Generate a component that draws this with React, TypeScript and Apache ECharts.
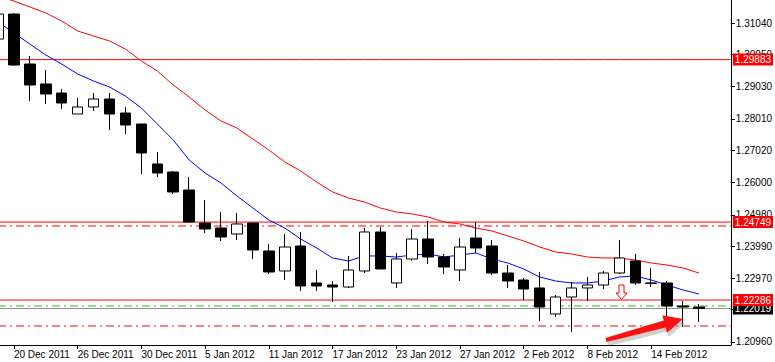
import React, { useEffect, useRef } from "react";
import * as echarts from "echarts";

const dates = [
  "19 Dec 2011", "20 Dec 2011", "21 Dec 2011", "22 Dec 2011", "23 Dec 2011",
  "26 Dec 2011", "27 Dec 2011", "28 Dec 2011", "29 Dec 2011", "30 Dec 2011",
  "2 Jan 2012", "3 Jan 2012", "4 Jan 2012", "5 Jan 2012", "6 Jan 2012",
  "9 Jan 2012", "10 Jan 2012", "11 Jan 2012", "12 Jan 2012", "13 Jan 2012",
  "16 Jan 2012", "17 Jan 2012", "18 Jan 2012", "19 Jan 2012", "20 Jan 2012",
  "23 Jan 2012", "24 Jan 2012", "25 Jan 2012", "26 Jan 2012", "27 Jan 2012",
  "30 Jan 2012", "31 Jan 2012", "1 Feb 2012", "2 Feb 2012", "3 Feb 2012",
  "6 Feb 2012", "7 Feb 2012", "8 Feb 2012", "9 Feb 2012", "10 Feb 2012",
  "13 Feb 2012", "14 Feb 2012", "15 Feb 2012", "16 Feb 2012", "17 Feb 2012",
  "20 Feb 2012", "21 Feb 2012",
];

const opens = [
  1.30534, 1.31324, 1.29744, 1.29113, 1.28828, 1.28165, 1.28386, 1.28639, 1.28196, 1.27849,
  1.26585, 1.26332, 1.25763, 1.2472, 1.24562, 1.24373, 1.2472, 1.23836, 1.23204, 1.23994,
  1.22825, 1.22761, 1.22698, 1.23204, 1.24436, 1.22825, 1.23583, 1.24215, 1.23646, 1.23235,
  1.24246, 1.23994, 1.2314, 1.22919, 1.22667, 1.21845, 1.22382, 1.22667, 1.22761, 1.2314,
  1.2352, 1.22825, 1.22825, 1.22098, 1.22066,
];
const closes = [
  1.31324, 1.29713, 1.29081, 1.28797, 1.28512, 1.28386, 1.28639, 1.28165, 1.27817, 1.26932,
  1.263, 1.257, 1.24752, 1.24531, 1.24278, 1.24689, 1.23867, 1.23172, 1.23962, 1.2273,
  1.2273, 1.22698, 1.23235, 1.24436, 1.23267, 1.23583, 1.24215, 1.23646, 1.2333, 1.23962,
  1.2393, 1.2314, 1.22888, 1.22635, 1.22066, 1.22382, 1.22667, 1.22761, 1.2314, 1.23614,
  1.22825, 1.22815, 1.22098, 1.22066, 1.22019,
];
const lows = [
  1.30503, 1.29681, 1.28575, 1.28481, 1.28323, 1.28165, 1.28259, 1.27659, 1.27533, 1.26269,
  1.26174, 1.25637, 1.2472, 1.24404, 1.24152, 1.24183, 1.23583, 1.23109, 1.22919, 1.22572,
  1.22572, 1.22224, 1.22667, 1.2314, 1.23267, 1.22667, 1.2352, 1.23425, 1.23109, 1.22888,
  1.23772, 1.23077, 1.22667, 1.22287, 1.21624, 1.2175, 1.21276, 1.22256, 1.22635, 1.23109,
  1.22761, 1.22698, 1.21719, 1.21434, 1.21592,
];
const highs = [
  1.31388, 1.31356, 1.29997, 1.29555, 1.28955, 1.2867, 1.28828, 1.28828, 1.28386, 1.27849,
  1.26964, 1.26363, 1.26174, 1.25447, 1.25068, 1.25036, 1.2472, 1.24057, 1.24373, 1.24436,
  1.23235, 1.22888, 1.23678, 1.24562, 1.24594, 1.23772, 1.24531, 1.24784, 1.23741, 1.24246,
  1.24752, 1.24183, 1.23393, 1.22983, 1.23172, 1.22445, 1.22856, 1.23014, 1.23204, 1.24183,
  1.23741, 1.23298, 1.22888, 1.22256, 1.22161,
];

const maFast = [
  1.31072, 1.30724, 1.30376, 1.30029, 1.29744, 1.29429, 1.29207, 1.29018, 1.28733, 1.28354,
  1.27849, 1.27343, 1.26711, 1.263, 1.25984, 1.25574, 1.25194, 1.24815, 1.24562, 1.24215,
  1.2393, 1.23614, 1.2352, 1.23678, 1.23678, 1.23646, 1.23709, 1.23741, 1.23646, 1.23709,
  1.23772, 1.23583, 1.23456, 1.23267, 1.23014, 1.22888, 1.22825, 1.22825, 1.22888, 1.23014,
  1.23046, 1.22919, 1.22761, 1.22603, 1.22477,
];
const maSlow = [
  1.31893, 1.31735, 1.31546, 1.31356, 1.31103, 1.30787, 1.30629, 1.30471, 1.30218, 1.29839,
  1.29523, 1.29081, 1.28702, 1.28291, 1.27943, 1.27722, 1.27375, 1.27027, 1.26648, 1.26363,
  1.26016, 1.257, 1.2551, 1.25384, 1.25194, 1.25068, 1.25005, 1.2491, 1.24752, 1.24689,
  1.24562, 1.24468, 1.2431, 1.24152, 1.23962, 1.23804, 1.23741, 1.23646, 1.23614, 1.23614,
  1.23551, 1.23456, 1.23393, 1.23298, 1.2314,
];

const yTicks = [1.3104, 1.3005, 1.2903, 1.2801, 1.2702, 1.26, 1.2498, 1.2399, 1.2297, 1.2198, 1.2096];
const yMin = 1.20865;
const yMax = 1.31767;

const solidLevels = [1.29883, 1.24749, 1.22286];
const redDashLevels = [1.24626, 1.21466];
const greenDashLevel = 1.22098;
const bidLevel = 1.22019;

const FONT = "'Liberation Sans', Arial, sans-serif";
const DASHDOT = [8, 4, 2, 4];
const OFF = 2; // chart div is shifted 2px left of the page

export default function App() {
  const ref = useRef<HTMLDivElement>(null);
  useEffect(() => {
    if (!ref.current) return;
    const chart = echarts.init(ref.current, undefined, { renderer: "svg" });
    const candles = opens.map((o, i) => [o, closes[i], lows[i], highs[i]]);
    const labelShow = (i: number) => i % 4 === 1 && i <= 41;
    const fmt = (v: number) => Number(v).toFixed(5);
    const levelSeries = (value: number, color: string, dashed: boolean, labelBg: string | null, name: string) => ({
      type: "line",
      name,
      data: dates.map(() => value),
      symbol: "none",
      silent: true,
      clip: false,
      z: 1,
      color,
      lineStyle: { color, width: 1, type: dashed ? DASHDOT : "solid", opacity: 1 },
      endLabel: labelBg
        ? {
            show: true,
            distance: 2,
            formatter: () => fmt(value),
            backgroundColor: labelBg,
            color: "#fff",
            fontSize: 10,
            fontFamily: FONT,
            padding: [1, 2, 0, 2],
            lineHeight: 11,
          }
        : { show: false },
    });

    const levels: any[] = [
      levelSeries(bidLevel, "#8c8c8c", false, "#000000", "bid"),
      levelSeries(greenDashLevel, "#22c022", true, null, "green"),
      ...redDashLevels.map((v, i) => levelSeries(v, "#ff0000", true, null, "dash" + i)),
      ...solidLevels.map((v, i) => levelSeries(v, "#ff0000", false, "#ff0000", "level" + i)),
    ];

    // annotation arrows (page coords + OFF)
    const T = [606, 340];
    const tip = [683, 319];
    const dx = tip[0] - T[0];
    const dy = tip[1] - T[1];
    const L = Math.hypot(dx, dy);
    const u = [dx / L, dy / L];
    const n = [-u[1], u[0]];
    const B = [T[0] + u[0] * (L - 19), T[1] + u[1] * (L - 19)];
    const pt = (p: number[], k: number) => [p[0] + n[0] * k + OFF, p[1] + n[1] * k];
    const bigArrow = [pt(T, -2), pt(B, -3.5), pt(B, -9), [tip[0] + OFF, tip[1]], pt(B, 9), pt(B, 3.5), pt(T, 2)];
    const shadow = bigArrow.map((p) => [p[0] + 2, p[1] + 4]);
    const smallArrow = [
      [619, 285], [624, 285], [624, 293], [627, 293], [621.5, 299.5], [616, 293], [619, 293],
    ].map((p) => [p[0] + OFF, p[1]]);

    chart.setOption({
      animation: false,
      backgroundColor: "#ffffff",
      textStyle: { fontFamily: FONT },
      grid: { left: 0, right: 40, top: 0, bottom: 17 },
      xAxis: {
        type: "category",
        data: dates,
        boundaryGap: false,
        axisLine: { show: true, onZero: false, lineStyle: { color: "#000", width: 1 } },
        axisTick: { show: true, length: 4, interval: (i: number) => labelShow(i), lineStyle: { color: "#000" } },
        axisLabel: {
          interval: (i: number) => labelShow(i),
          align: "left",
          margin: 4,
          color: "#000",
          fontSize: 10,
          fontFamily: FONT,
        },
        splitLine: { show: false },
      },
      yAxis: {
        type: "value",
        position: "right",
        min: yMin,
        max: yMax,
        axisLine: { show: true, lineStyle: { color: "#000", width: 1 } },
        axisTick: { show: true, length: 4, customValues: yTicks, lineStyle: { color: "#000" } },
        axisLabel: {
          customValues: yTicks,
          formatter: (v: number) => fmt(v),
          margin: 5,
          color: "#000",
          fontSize: 10,
          fontFamily: FONT,
        },
        splitLine: { show: false },
      },
      series: [
        ...levels,
        {
          type: "line",
          name: "MA slow",
          data: maSlow,
          symbol: "none",
          silent: true,
          z: 2,
          lineStyle: { color: "#ff0000", width: 1 },
        },
        {
          type: "line",
          name: "MA fast",
          data: maFast,
          symbol: "none",
          silent: true,
          z: 2,
          lineStyle: { color: "#0000ff", width: 1 },
        },
        {
          type: "candlestick",
          name: "EURUSD",
          data: candles,
          barWidth: 11,
          silent: true,
          z: 3,
          itemStyle: {
            color: "#ffffff",
            color0: "#000000",
            borderColor: "#000000",
            borderColor0: "#000000",
            borderWidth: 1,
          },
        },
      ],
      graphic: [
        { type: "polygon", z: 10, shape: { points: shadow }, style: { fill: "rgba(120,120,120,0.35)" } },
        { type: "polygon", z: 11, shape: { points: bigArrow }, style: { fill: "#ff1010" } },
        {
          type: "polygon",
          z: 11,
          shape: { points: smallArrow },
          style: { fill: "#ffffff", stroke: "#ff0000", lineWidth: 1 },
        },
      ],
    });
    return () => chart.dispose();
  }, []);
  return (
    <div
      ref={ref}
      style={{ position: "fixed", left: -OFF, top: 0, width: 775 + OFF, height: 362, background: "#fff" }}
    />
  );
}
